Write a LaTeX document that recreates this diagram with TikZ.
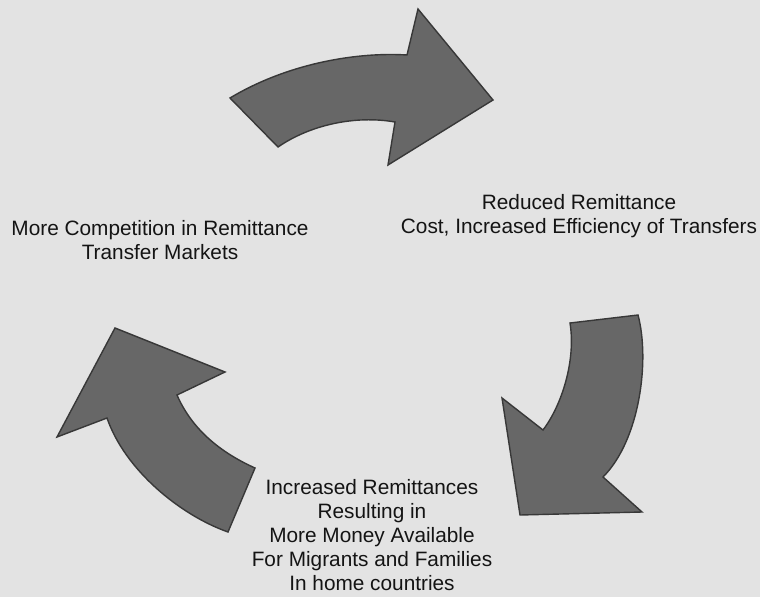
\documentclass[tikz,border=0pt]{standalone}
\usepackage{fontspec}
\setmainfont{Liberation Sans}
\definecolor{bgcol}{HTML}{E3E3E3}
\definecolor{arrowfill}{HTML}{676767}
\definecolor{arrowline}{HTML}{383838}
\definecolor{txtcol}{HTML}{141414}
\begin{document}
\begin{tikzpicture}[x=1pt,y=-1pt,
  cyclearrow/.style={fill=arrowfill,draw=arrowline,line width=1.4pt,line join=miter},
  label/.style={align=center,text=txtcol,font=\fontsize{20.8}{23.8}\selectfont,inner sep=0pt}]
\fill[bgcol] (0,0) rectangle (760,597);
\useasboundingbox (0,0) rectangle (760,597);
% top arrow
\draw[cyclearrow] (230,98) .. controls (290,62) and (360,52) .. (407,55) -- (418,9) -- (493,100) -- (388,165) -- (395,122) .. controls (355,115) and (310,125) .. (278,147) -- cycle;
% right arrow
\draw[cyclearrow] (570,323) -- (638,315) .. controls (650,360) and (640,440) .. (603,477) -- (642,512) -- (520,515) -- (502,398) -- (543,430) .. controls (562,405) and (576,360) .. (570,323) -- cycle;
% left arrow
\draw[cyclearrow] (255,468) -- (228,532) .. controls (180,515) and (125,470) .. (107,418) -- (57,437) -- (115,328) -- (225,372) -- (177,395) .. controls (190,425) and (215,450) .. (255,468) -- cycle;
\node[label] (comp) at (160,240) {More Competition in Remittance\\Transfer Markets};
\node[label] (cost) at (579,216) {Reduced Remittance\\Cost, Increased Efficiency of Transfers};
\node[label] (incr) at (372,535) {Increased Remittances\\Resulting in\\More Money Available\\For Migrants and Families\\In home countries};
\end{tikzpicture}
\end{document}
